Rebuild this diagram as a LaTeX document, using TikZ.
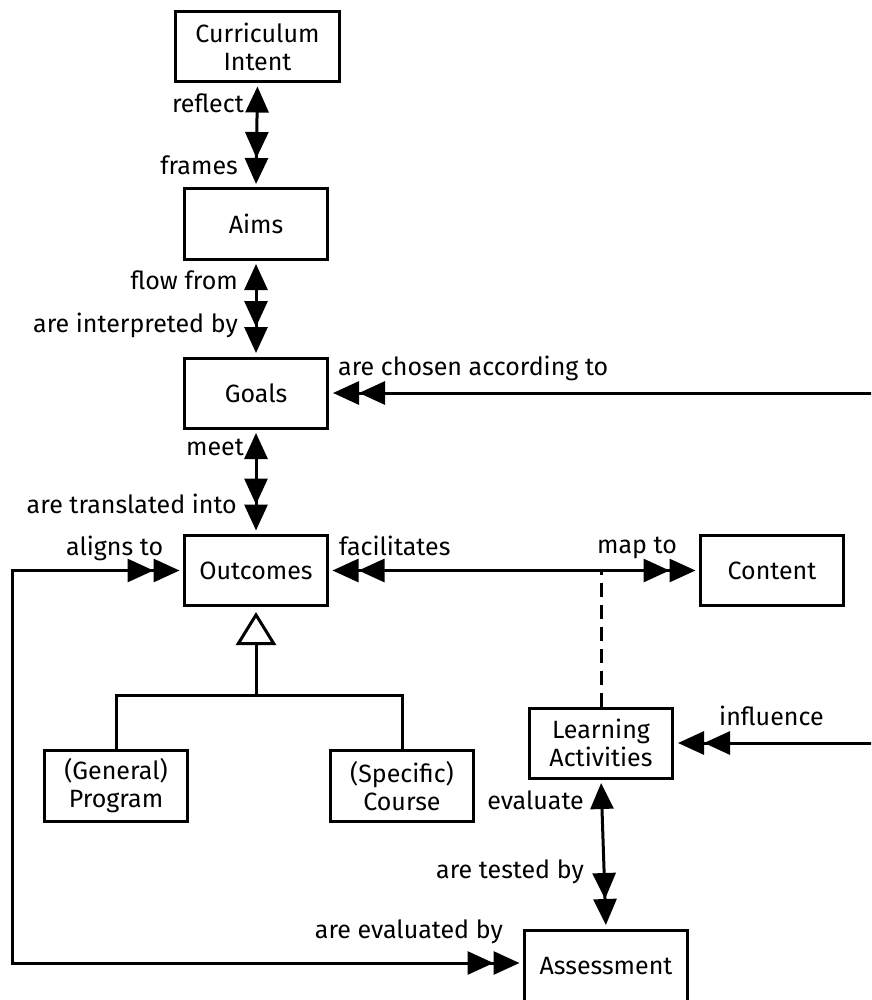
\documentclass[tikz,border=0pt]{standalone}
\usepackage{fontspec}
\setmainfont{Fira Sans}
\usetikzlibrary{arrows.meta}
\begin{document}
\begin{tikzpicture}[x=1pt,y=-1pt,
  font=\fontsize{25}{28}\selectfont,
  hd/.tip={Triangle[length=26pt,width=23pt,sep=0pt]},
  hdd/.tip={Triangle[length=26pt,width=23pt,sep=0pt]Triangle[length=26pt,width=23pt,sep=0pt]},
  box/.style={draw,line width=3pt,align=center,inner sep=0pt,
    minimum width=143pt,minimum height=70pt},
  conn/.style={line width=3pt},
  lblr/.style={anchor=base east,inner sep=0pt},
  lbll/.style={anchor=base west,inner sep=0pt},
  gap/.style={shorten <=3.5pt,shorten >=3.5pt}]
\useasboundingbox (0,0) rectangle (871,1000);
\clip (0,0) rectangle (871,1000);

% concept boxes
\node[box,minimum width=164pt] (ci) at (257.5,46.5) {Curriculum\\Intent};
\node[box] (aims) at (256,224) {Aims};
\node[box] (goals) at (256,393) {Goals};
\node[box] (out) at (256,570.5) {Outcomes};
\node[box] (cont) at (772,570.5) {Content};
\node[box] (la) at (601,743) {Learning\\Activities};
\node[box,minimum height=71pt] (prog) at (116,786) {(General)\\Program};
\node[box,minimum height=71pt] (course) at (402,786) {(Specific)\\Course};
\node[box,minimum width=163pt,minimum height=73pt] (asm) at (606,966.5) {Assessment};

% free ends and bends
\coordinate (goalsin) at (880,393);
\coordinate (inflin) at (880,743);
\coordinate (lft) at (12,570.5);
\coordinate (gj) at (256,695);

% vertical chain
\draw[conn,gap,{hd}-{hdd}] (ci.south) -- (aims.north);
\draw[conn,gap,{hd}-{hdd}] (aims.south) -- (goals.north);
\draw[conn,gap,{hd}-{hdd}] (goals.south) -- (out.north);
\draw[conn,shorten >=4pt,-{hdd}] (goalsin) -- (goals.east);

% outcomes to content, with learning activities attached
\draw[conn,gap,{hdd}-{hdd}] (out.east) -- (cont.west);
\draw[conn,dash pattern=on 14pt off 8pt] (la.north) -- (la.north |- out.east);
\draw[conn,shorten >=4pt,-{hdd}] (inflin) -- (la.east);
\draw[conn,gap,{hd}-{hdd}] (la.south) -- (asm.north);

% outcomes to assessment loop
\draw[conn,gap,{hdd}-{hdd}] (out.west) -- (lft) |- ([yshift=3.5pt]asm.west);

% generalisation of outcomes
\draw[conn,shorten >=5pt,-{Triangle[open,length=33pt,width=40pt]}] (gj) -- (out.south);
\draw[conn] (prog.north) |- (gj) -| (course.north);

% connector labels
\node[lblr] (lreflect) at (244,113) {reflect};
\node[lblr] (lframes) at (238,175) {frames};
\node[lblr] (lflow) at (238,289) {flow from};
\node[lblr] (linterp) at (238,332) {are interpreted by};
\node[lbll] (lchosen) at (338,375) {are chosen according to};
\node[lblr] (lmeet) at (244,455) {meet};
\node[lblr] (ltrans) at (237,513) {are translated into};
\node[lbll] (laligns) at (66,555) {aligns to};
\node[lbll] (lfacil) at (339,555) {facilitates};
\node[lbll] (lmap) at (597,553) {map to};
\node[lbll] (linfl) at (719,725) {influence};
\node[lblr] (leval) at (584,809) {evaluate};
\node[lblr] (ltested) at (584,878) {are tested by};
\node[lblr] (levalby) at (503,938) {are evaluated by};
\end{tikzpicture}
\end{document}
